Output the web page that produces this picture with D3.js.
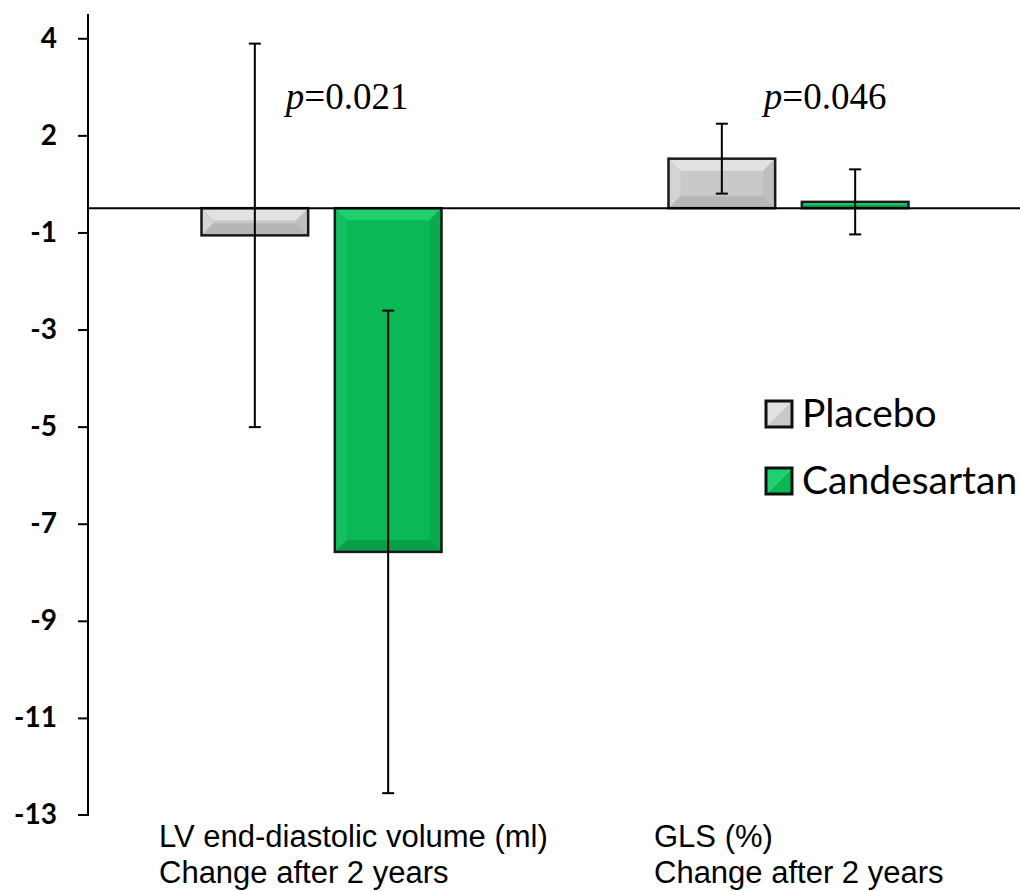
<!DOCTYPE html>
<html>
<head>
<meta charset="utf-8">
<script src="https://cdn.jsdelivr.net/npm/d3@7"></script>
<style>
  body { margin: 0; background: #fff; }
  svg { display: block; }
</style>
</head>
<body>
<svg id="chart"></svg>
<script>
// data
const groups = ["LV", "GLS"];
const groupLabels = [
  ["LV end-diastolic volume (ml)", "Change after 2 years"],
  ["GLS (%)", "Change after 2 years"]
];
const series = ["Placebo", "Candesartan"];
const placeboMean = [-0.56, 1.02];
const placeboErr = [3.95, 0.72];
const candesartanMean = [-7.08, 0.13];
const candesartanErr = [4.97, 0.67];
const pValues = ["0.021", "0.046"];
const tickLabels = ["4", "2", "-1", "-3", "-5", "-7", "-9", "-11", "-13"];

const width = 1020,
  height = 891;

const svg = d3.select("#chart").attr("width", width).attr("height", height);

const rows = [];
groups.forEach(function(g, i) {
  rows.push({ group: g, series: "Placebo", value: placeboMean[i], err: placeboErr[i] });
  rows.push({ group: g, series: "Candesartan", value: candesartanMean[i], err: candesartanErr[i] });
});

const x0 = d3.scaleBand().domain(groups).range([88, 1022]);
const x1 = d3
  .scaleBand()
  .domain(series)
  .range([x0.bandwidth() / 2 - 120, x0.bandwidth() / 2 + 120])
  .paddingInner(0.2);

const y = d3.scaleLinear().domain([-12.5, 4]).range([815, 14]);

const colors = {
  Placebo: { mid: "#c9c9c9", top: "#e2e2e2", left: "#d4d4d4", right: "#bfbfbf", bottom: "#b6b6b6" },
  Candesartan: { mid: "#0bb856", top: "#20cf70", left: "#12c160", right: "#09ab4e", bottom: "#089f48" }
};

// axis ticks: evenly spaced, labelled as printed in the figure
const tickVals = tickLabels.map(function(d, i) {
  return 3.5 - 2 * i;
});

const yAxis = d3
  .axisLeft(y)
  .tickValues(tickVals)
  .tickSize(10)
  .tickPadding(21)
  .tickFormat(function(d, i) {
    return tickLabels[i];
  });

const axisG = svg
  .append("g")
  .attr("transform", "translate(88,0)")
  .call(yAxis);
axisG.select(".domain").attr("d", "M-0," + y(4) + "V" + y(-12.5) + "H-10").attr("stroke-width", 2);
axisG.selectAll(".tick line").attr("stroke-width", 2);
axisG
  .selectAll(".tick text")
  .attr("font-family", "Lato, 'Open Sans', sans-serif")
  .attr("font-weight", "bold")
  .attr("font-size", 28)
  .attr("fill", "#000");
axisG.selectAll(".tick").filter(function(d) { return d === -12.5; }).select("line").remove();

// bars
const bar = svg
  .selectAll("g.bar")
  .data(rows)
  .enter()
  .append("g")
  .attr("class", "bar")
  .attr("transform", function(d) {
    return "translate(" + (x0(d.group) + x1(d.series)) + ",0)";
  });

const bw = x1.bandwidth();

bar.each(function(d) {
  const g = d3.select(this);
  const top = Math.min(y(d.value), y(0));
  const bot = Math.max(y(d.value), y(0));
  const h = bot - top;
  const c = colors[d.series];
  const b = Math.min(12, h / 2);
  g.append("rect").attr("x", 0).attr("y", top).attr("width", bw).attr("height", h).attr("fill", c.mid);
  // bevel faces
  g.append("polygon")
    .attr("points", [[0, top], [bw, top], [bw - b, top + b], [b, top + b]].join(" "))
    .attr("fill", c.top);
  g.append("polygon")
    .attr("points", [[0, top], [b, top + b], [b, bot - b], [0, bot]].join(" "))
    .attr("fill", c.left);
  g.append("polygon")
    .attr("points", [[bw, top], [bw, bot], [bw - b, bot - b], [bw - b, top + b]].join(" "))
    .attr("fill", c.right);
  g.append("polygon")
    .attr("points", [[0, bot], [b, bot - b], [bw - b, bot - b], [bw, bot]].join(" "))
    .attr("fill", c.bottom);
  g.append("rect")
    .attr("x", 0)
    .attr("y", top)
    .attr("width", bw)
    .attr("height", h)
    .attr("fill", "none")
    .attr("stroke", "#1a1a1a")
    .attr("stroke-width", 2.5);
});

// zero line
svg
  .append("line")
  .attr("x1", 88)
  .attr("x2", width)
  .attr("y1", y(0))
  .attr("y2", y(0))
  .attr("stroke", "#000")
  .attr("stroke-width", 2);

// error bars
const err = svg
  .selectAll("g.err")
  .data(rows)
  .enter()
  .append("g")
  .attr("class", "err")
  .attr("transform", function(d) {
    return "translate(" + (x0(d.group) + x1(d.series) + bw / 2) + ",0)";
  })
  .attr("stroke", "#000")
  .attr("stroke-width", 2);

err
  .append("line")
  .attr("y1", function(d) { return y(d.value + d.err); })
  .attr("y2", function(d) { return y(d.value - d.err); });
err
  .append("line")
  .attr("x1", -6)
  .attr("x2", 6)
  .attr("y1", function(d) { return y(d.value + d.err); })
  .attr("y2", function(d) { return y(d.value + d.err); });
err
  .append("line")
  .attr("x1", -6)
  .attr("x2", 6)
  .attr("y1", function(d) { return y(d.value - d.err); })
  .attr("y2", function(d) { return y(d.value - d.err); });

// p values, placed right of the placebo error bar
const pOffset = [31, 42];
const pText = svg
  .selectAll("text.p")
  .data(pValues)
  .enter()
  .append("text")
  .attr("class", "p")
  .attr("x", function(d, i) {
    return x0(groups[i]) + x1("Placebo") + bw / 2 + pOffset[i];
  })
  .attr("y", 109)
  .attr("font-family", "'Liberation Serif', 'Times New Roman', serif")
  .attr("font-size", 37)
  .attr("fill", "#000");
pText.append("tspan").attr("font-style", "italic").text("p");
pText.append("tspan").text(function(d) { return "=" + d; });

// category labels
const labelX = [159, 654];
const cat = svg
  .selectAll("text.cat")
  .data(groupLabels)
  .enter()
  .append("text")
  .attr("class", "cat")
  .attr("font-family", "'Liberation Sans', Arial, sans-serif")
  .attr("font-size", 31)
  .attr("fill", "#000");
cat
  .selectAll("tspan")
  .data(function(d, i) {
    return d.map(function(t) { return { t: t, i: i }; });
  })
  .enter()
  .append("tspan")
  .attr("x", function(d) { return labelX[d.i]; })
  .attr("y", function(d, j) { return 847 + j * 36; })
  .text(function(d) { return d.t; });

// legend
const legend = svg
  .selectAll("g.legend")
  .data(series)
  .enter()
  .append("g")
  .attr("class", "legend")
  .attr("transform", function(d, i) {
    return "translate(766," + (401 + i * 67) + ")";
  });

legend.each(function(d) {
  const g = d3.select(this);
  const c = colors[d];
  const s = 26;
  g.append("polygon").attr("points", [[0, 0], [s, 0], [0, s]].join(" ")).attr("fill", c.top);
  g.append("polygon").attr("points", [[s, 0], [s, s], [0, s]].join(" ")).attr("fill", c.mid);
  g.append("rect")
    .attr("width", s)
    .attr("height", s)
    .attr("fill", "none")
    .attr("stroke", "#111")
    .attr("stroke-width", 3);
});

legend
  .append("text")
  .attr("x", 36)
  .attr("y", 26)
  .attr("font-family", "Lato, 'Open Sans', sans-serif")
  .attr("font-size", 39)
  .attr("fill", "#000")
  .text(function(d) { return d; });
</script>
</body>
</html>
